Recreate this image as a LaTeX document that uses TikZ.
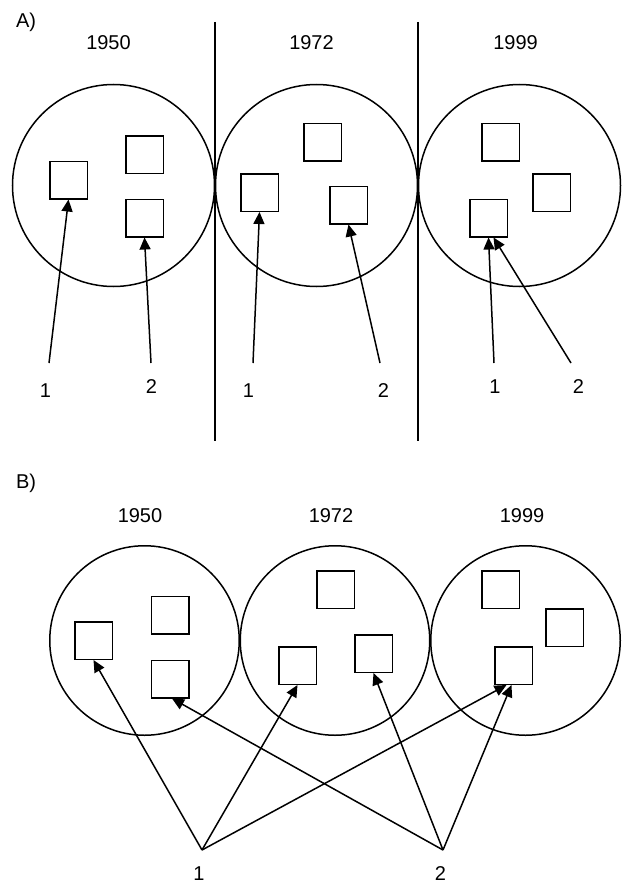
\documentclass[tikz,border=0pt]{standalone}
\usepackage{fontspec}
\setmainfont{Liberation Sans}
\usetikzlibrary{arrows.meta}

\begin{document}
\begin{tikzpicture}[x=1pt,y=-1pt,line width=1.5pt,
    font=\fontsize{20}{24}\selectfont,
    >={Triangle[length=12pt,width=11pt]}]

        \useasboundingbox (0,0) rectangle (621,883);

        % panel A
        \node[anchor=base west] (labA) at (12,27.7) {A)};
        \node[anchor=base] (yA1) at (108.5,49.3) {1950};
        \node[anchor=base] (yA2) at (311.5,49.3) {1972};
        \node[anchor=base] (yA3) at (515.5,49.3) {1999};

        \coordinate (sepA1t) at (215,22);
        \coordinate (sepA1b) at (215,441);
        \coordinate (sepA2t) at (418,22);
        \coordinate (sepA2b) at (418,441);
        \draw (sepA1t) -- (sepA1b);
        \draw (sepA2t) -- (sepA2b);

        \begin{scope}[every node/.style={circle,draw,minimum size=202pt,inner sep=0pt}]
          \node (A1) at (113.5,185.5) {};
          \node (A2) at (316.5,185.5) {};
          \node (A3) at (519.5,185.5) {};
        \end{scope}

        \begin{scope}[every node/.style={rectangle,draw,minimum size=37.5pt,inner sep=0pt}]
          \node (A1a) at (68.5,180)   {};
          \node (A1b) at (144.5,154.5) {};
          \node (A1c) at (144.5,218)  {};
          \node (A2a) at (259.5,192.5) {};
          \node (A2b) at (322.5,142)  {};
          \node (A2c) at (348.5,205)  {};
          \node (A3a) at (500.5,142)  {};
          \node (A3b) at (551.5,192.5) {};
          \node (A3c) at (488.5,218)  {};
        \end{scope}

        \begin{scope}[every node/.style={anchor=base}]
          \node (nA11) at (45.5,397)  {1};
          \node (nA12) at (151.5,393) {2};
          \node (nA21) at (248.5,397) {1};
          \node (nA22) at (383.5,397) {2};
          \node (nA31) at (495,393)   {1};
          \node (nA32) at (578.5,393) {2};
        \end{scope}

        \coordinate (fA11) at (49,363);
        \coordinate (fA12) at (151,363);
        \coordinate (fA21) at (253,363);
        \coordinate (fA22) at (380,363);
        \coordinate (fA31) at (494,363);
        \coordinate (fA32) at (571,363);

        \draw[->] (fA11) -- (A1a.south);
        \draw[->] (fA12) -- (A1c.south);
        \draw[->] (fA21) -- (A2a.south);
        \draw[->] (fA22) -- (A2c.south);
        \draw[->] (fA31) -- (A3c.south);
        \draw[->] (fA32) -- ([xshift=5pt]A3c.south);

        % panel B
        \node[anchor=base west] (labB) at (12,488) {B)};
        \node[anchor=base] (yB1) at (140,522) {1950};
        \node[anchor=base] (yB2) at (331,522) {1972};
        \node[anchor=base] (yB3) at (522,522) {1999};

        \begin{scope}[every node/.style={circle,draw,minimum size=189.5pt,inner sep=0pt}]
          \node (B1) at (144.5,640.5) {};
          \node (B2) at (335,640.5)   {};
          \node (B3) at (525.5,640.5) {};
        \end{scope}

        \begin{scope}[every node/.style={rectangle,draw,minimum size=37.5pt,inner sep=0pt}]
          \node (B1a) at (93.5,640.5) {};
          \node (B1b) at (170,615)    {};
          \node (B1c) at (170,679)    {};
          \node (B2a) at (335.5,589.5) {};
          \node (B2b) at (297.5,665.5) {};
          \node (B2c) at (373.5,653.5) {};
          \node (B3a) at (500.5,589.5) {};
          \node (B3b) at (564.5,627.5) {};
          \node (B3c) at (513.5,665.5) {};
        \end{scope}

        \coordinate (p1) at (202,850);
        \coordinate (p2) at (443,850);
        \node[anchor=base] (nB1) at (199,880) {1};
        \node[anchor=base] (nB2) at (440.5,880) {2};

        \draw[->] (p1) -- (B1a.south);
        \draw[->] (p1) -- (B2b.south);
        \draw[->] (p1) -- ([xshift=-7pt]B3c.south);
        \draw[->] (p2) -- ([xshift=2pt]B1c.south);
        \draw[->] (p2) -- (B2c.south);
        \draw[->] (p2) -- ([xshift=-2pt]B3c.south);

      \end{tikzpicture}
\end{document}
